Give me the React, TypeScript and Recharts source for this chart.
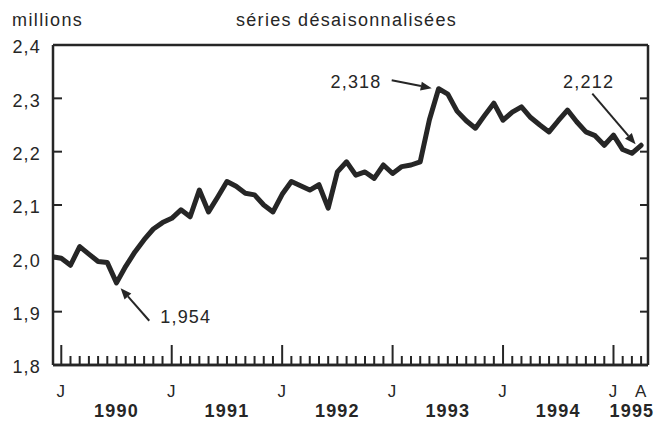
import React from 'react';
import { LineChart, Line, XAxis, YAxis, ReferenceLine, ReferenceDot } from 'recharts';

// month index: 0 = janvier 1990 (-1 = décembre 1989)
const months = [
  -1, 0, 1, 2, 3, 4, 5, 6, 7, 8, 9, 10, 11,
  12, 13, 14, 15, 16, 17, 18, 19, 20, 21, 22, 23,
  24, 25, 26, 27, 28, 29, 30, 31, 32, 33, 34, 35,
  36, 37, 38, 39, 40, 41, 42, 43, 44, 45, 46, 47,
  48, 49, 50, 51, 52, 53, 54, 55, 56, 57, 58, 59,
  60, 61, 62, 63,
];

// millions, séries désaisonnalisées
const values = [
  2.003, 2.0, 1.987, 2.022, 2.008, 1.994, 1.992, 1.954, 1.985, 2.012, 2.035, 2.055, 2.067,
  2.075, 2.091, 2.078, 2.128, 2.087, 2.115, 2.144, 2.135, 2.122, 2.119, 2.1, 2.087,
  2.12, 2.144, 2.136, 2.128, 2.138, 2.094, 2.162, 2.181, 2.156, 2.162, 2.15, 2.175,
  2.159, 2.172, 2.175, 2.181, 2.26, 2.318, 2.308, 2.276, 2.258, 2.244, 2.268, 2.291,
  2.259, 2.274, 2.284, 2.264, 2.25, 2.237, 2.258, 2.278, 2.256, 2.237, 2.23, 2.212,
  2.231, 2.204, 2.197, 2.212,
];

const monthTicks = months.filter((m) => m >= 0);
const monthLetters: Record<number, string> = { 0: 'J', 12: 'J', 24: 'J', 36: 'J', 48: 'J', 60: 'J', 63: 'A' };
const yearLabels: Record<number, string> = { 6: '1990', 18: '1991', 30: '1992', 42: '1993', 54: '1994', 62: '1995' };
const yTicks = [1.8, 1.9, 2.0, 2.1, 2.2, 2.3, 2.4];

const annotations = [
  { label: '1,954', textAt: { x: 10.75, y: 1.891 }, anchor: 'start', tail: { x: 9.56, y: 1.883 }, head: { x: 6.45, y: 1.944 } },
  { label: '2,318', textAt: { x: 34.8, y: 2.331 }, anchor: 'end', tail: { x: 35.9, y: 2.334 }, head: { x: 40.25, y: 2.319 } },
  { label: '2,212', textAt: { x: 57.3, y: 2.331 }, anchor: 'middle', tail: { x: 57.7, y: 2.309 }, head: { x: 62.4, y: 2.214 } },
];

const data = months.map((m, i) => ({ m, v: values[i] }));

const INK = '#262626';
const FONT = '"Liberation Sans", Arial, Helvetica, sans-serif';

const XTick = (props: any) => {
  const { x, y, payload } = props;
  const m = payload.value as number;
  const isJan = m % 12 === 0;
  const letter = monthLetters[m];
  const year = yearLabels[m];
  return (
    <g>
      <line x1={x} x2={x} y1={y} y2={y - (isJan ? 20 : 9)} stroke={INK} strokeWidth={2} />
      {letter && (
        <text x={x} y={y + 32} textAnchor="middle" fontFamily={FONT} fontSize={17} fill={INK} letterSpacing={1}>
          {letter}
        </text>
      )}
      {year && (
        <text x={x} y={y + 52} textAnchor="middle" fontFamily={FONT} fontSize={18} fontWeight="bold" fill={INK} letterSpacing={1.2}>
          {year}
        </text>
      )}
    </g>
  );
};

const YTickLeft = (props: any) => {
  const { x, y, payload } = props;
  const v = payload.value as number;
  return (
    <g>
      <line x1={x} x2={x + 9} y1={y} y2={y} stroke={INK} strokeWidth={2} />
      <text x={x - 12} y={y + 2} dy="0.35em" textAnchor="end" fontFamily={FONT} fontSize={18} fill={INK} letterSpacing={1.2}>
        {v.toFixed(1).replace('.', ',')}
      </text>
    </g>
  );
};

const YTickRight = (props: any) => {
  const { x, y } = props;
  return <line x1={x - 8} x2={x} y1={y} y2={y} stroke={INK} strokeWidth={2} />;
};

const Arrow = (props: any) => {
  const { x1, y1, x2, y2 } = props;
  if ([x1, y1, x2, y2].some((n) => typeof n !== 'number' || isNaN(n))) return <g />;
  const ang = Math.atan2(y2 - y1, x2 - x1);
  const L = 11;
  const W = 4.5;
  const bx = x2 - L * Math.cos(ang);
  const by = y2 - L * Math.sin(ang);
  const px = -Math.sin(ang) * W;
  const py = Math.cos(ang) * W;
  return (
    <g>
      <line x1={x1} y1={y1} x2={bx} y2={by} stroke={INK} strokeWidth={2} />
      <polygon points={`${x2},${y2} ${bx + px},${by + py} ${bx - px},${by - py}`} fill={INK} />
    </g>
  );
};

const makeLabel = (label: string, anchor: string) => (p: any) => (
  <text x={p.cx} y={p.cy} dy="0.35em" textAnchor={anchor as any} fontFamily={FONT} fontSize={18} fill={INK} letterSpacing={1.2}>
    {label}
  </text>
);

export default function App() {
  return (
    <div style={{ position: 'absolute', left: 0, top: 0, width: 657, height: 431, background: '#fff' }}>
      <LineChart width={657} height={431} data={data} margin={{ top: 44, right: 8, bottom: 65, left: 52 }}>
        <text x={12} y={26} fontFamily={FONT} fontSize={18} fill={INK} letterSpacing={1.4}>millions</text>
        <text x={236} y={26} fontFamily={FONT} fontSize={18} fill={INK} letterSpacing={1.3}>séries désaisonnalisées</text>
        <XAxis
          dataKey="m"
          type="number"
          domain={[-0.9, 63.75]}
          allowDataOverflow
          ticks={monthTicks}
          interval={0}
          tick={<XTick />}
          tickLine={false}
          tickSize={0}
          tickMargin={0}
          height={1}
          axisLine={{ stroke: INK, strokeWidth: 2.5 }}
        />
        <XAxis
          xAxisId="top"
          orientation="top"
          dataKey="m"
          type="number"
          domain={[-0.9, 63.75]}
          allowDataOverflow
          tick={false}
          tickLine={false}
          height={1}
          axisLine={{ stroke: INK, strokeWidth: 2.5 }}
        />
        <YAxis
          type="number"
          domain={[1.8, 2.4]}
          allowDataOverflow
          ticks={yTicks}
          interval={0}
          tick={<YTickLeft />}
          tickLine={false}
          tickSize={0}
          tickMargin={0}
          width={1}
          axisLine={{ stroke: INK, strokeWidth: 2.5 }}
        />
        <YAxis
          yAxisId="right"
          orientation="right"
          type="number"
          domain={[1.8, 2.4]}
          allowDataOverflow
          ticks={yTicks}
          interval={0}
          tick={<YTickRight />}
          tickLine={false}
          tickSize={0}
          tickMargin={0}
          width={1}
          axisLine={{ stroke: INK, strokeWidth: 2.5 }}
        />
        <ReferenceLine y={1.8} stroke={INK} strokeWidth={2.5} ifOverflow="visible" />
        <Line
          type="linear"
          dataKey="v"
          stroke={INK}
          strokeWidth={5}
          strokeLinejoin="round"
          strokeLinecap="round"
          dot={false}
          activeDot={false}
          isAnimationActive={false}
        />
        {annotations.map((a) => (
          <ReferenceLine
            key={a.label + 'arrow'}
            segment={[a.tail, a.head]}
            ifOverflow="visible"
            shape={(p: any) => <Arrow {...p} />}
          />
        ))}
        {annotations.map((a) => (
          <ReferenceDot
            key={a.label + 'text'}
            x={a.textAt.x}
            y={a.textAt.y}
            r={0}
            ifOverflow="visible"
            shape={makeLabel(a.label, a.anchor)}
          />
        ))}
      </LineChart>
    </div>
  );
}
